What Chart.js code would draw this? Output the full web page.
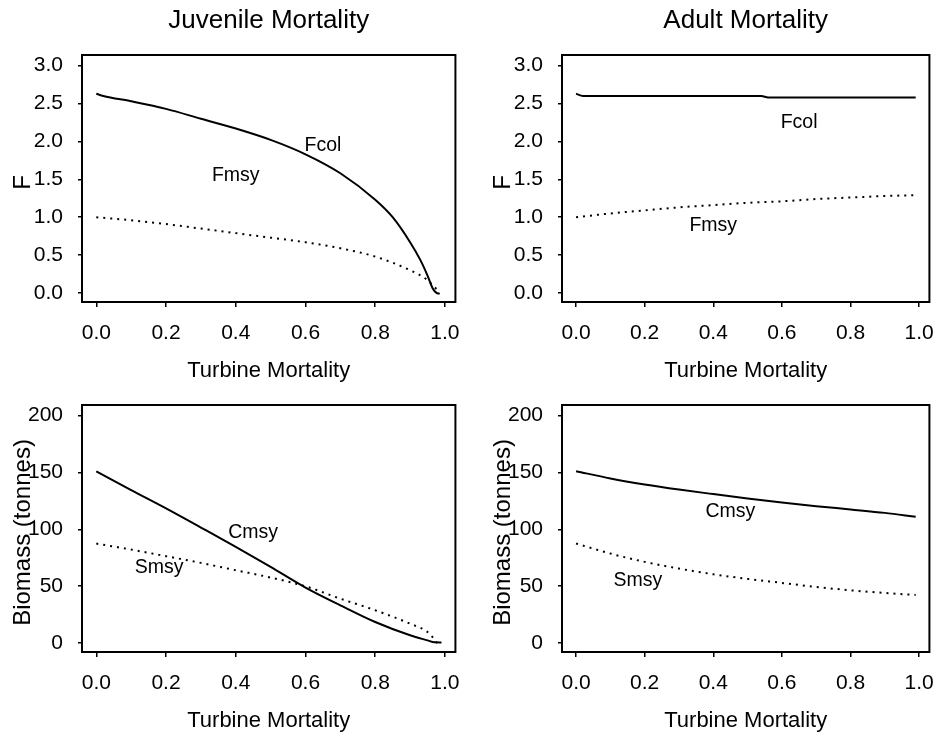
<!DOCTYPE html>
<html>
<head>
<meta charset="utf-8">
<title>Turbine Mortality</title>
<script src="https://cdn.jsdelivr.net/npm/chart.js@4.4.1/dist/chart.umd.min.js"></script>
<style>
  body { margin: 0; background: #fff; }
  #page { position: relative; width: 948px; height: 736px; overflow: hidden; }
  canvas { position: absolute; }
</style>
</head>
<body>
<div id="page">
  <canvas id="juvF" width="474" height="400" style="left:0;top:0"></canvas>
  <canvas id="adF" width="474" height="400" style="left:474px;top:0"></canvas>
  <canvas id="juvB" width="474" height="366" style="left:0;top:370px"></canvas>
  <canvas id="adB" width="474" height="366" style="left:474px;top:370px"></canvas>
</div>
<script>
// ====== AXIS TICKS ======
const xTicks = [0, 0.2, 0.4, 0.6, 0.8, 1.0];
const fTicks = [0, 0.5, 1.0, 1.5, 2.0, 2.5, 3.0];
const biomassTicks = [0, 50, 100, 150, 200];

// ====== JUVENILE MORTALITY: F ======
const juvFcolX = [0, 0.02, 0.1, 0.2, 0.3, 0.4, 0.5, 0.6, 0.7, 0.8, 0.85, 0.9, 0.93, 0.95, 0.965, 0.975, 0.985];
const juvFcol  = [2.63, 2.60, 2.53, 2.43, 2.30, 2.17, 2.02, 1.83, 1.58, 1.23, 1.00, 0.67, 0.43, 0.23, 0.06, 0.005, -0.01];
const juvFmsyX = [0, 0.1, 0.2, 0.3, 0.4, 0.5, 0.6, 0.7, 0.8, 0.9, 0.95, 0.98];
const juvFmsy  = [1.0, 0.96, 0.91, 0.85, 0.79, 0.73, 0.67, 0.59, 0.48, 0.30, 0.17, 0.03];

// ====== ADULT MORTALITY: F ======
const adFcolX = [0, 0.02, 0.54, 0.56, 0.99];
const adFcol  = [2.63, 2.60, 2.60, 2.58, 2.58];
const adFmsyX = [0, 0.1, 0.2, 0.3, 0.4, 0.5, 0.6, 0.7, 0.8, 0.9, 0.99];
const adFmsy  = [1.0, 1.05, 1.09, 1.13, 1.16, 1.19, 1.21, 1.24, 1.26, 1.28, 1.29];

// ====== JUVENILE MORTALITY: BIOMASS ======
const juvCmsyX = [0, 0.1, 0.2, 0.3, 0.4, 0.5, 0.6, 0.7, 0.8, 0.9, 0.95, 0.97, 0.99];
const juvCmsy  = [151, 134.5, 118.4, 101.6, 84.6, 67, 48.8, 33.2, 18.5, 6.8, 2.3, 0.6, 0.5];
const juvSmsyX = [0, 0.1, 0.2, 0.3, 0.4, 0.5, 0.6, 0.7, 0.8, 0.9, 0.95, 0.97, 0.985];
const juvSmsy  = [87.5, 82.2, 76.4, 70.5, 64, 57.6, 49.9, 39, 28.8, 17, 9.7, 3, -4];

// ====== ADULT MORTALITY: BIOMASS ======
const adBX    = [0, 0.1, 0.2, 0.3, 0.4, 0.5, 0.6, 0.7, 0.8, 0.9, 0.99];
const adCmsy  = [151.2, 144.8, 139.5, 135, 131, 127.2, 123.6, 120.4, 117.5, 114.5, 111];
const adSmsy  = [87.5, 78.7, 71.4, 65.5, 60.5, 56.4, 52.9, 49.3, 46.4, 44, 42.3];

// ====== CURVE LABELS (data coords) ======
const fLabels = ["Fcol", "Fmsy"];
const juvFLabelX = [0.65, 0.40], juvFLabelY = [1.95, 1.55];
const adFLabelX = [0.65, 0.40], adFLabelY = [2.25, 0.89];
const bLabels = ["Cmsy", "Smsy"];
const juvBLabelX = [0.45, 0.18], juvBLabelY = [97.5, 66];
const adBLabelX = [0.45, 0.18], adBLabelY = [116, 55];

const FONT = '"Liberation Sans", Arial, sans-serif';

// Frame, titles and curve labels drawn straight on the canvas
const panelDecor = {
  id: 'panelDecor',
  afterDatasetsDraw(chart, args, opts) {
    const { ctx, chartArea: a, scales } = chart;
    const cx = (a.left + a.right) / 2;
    ctx.save();
    ctx.strokeStyle = '#000';
    ctx.lineWidth = 2;
    ctx.strokeRect(a.left, a.top, a.right - a.left, a.bottom - a.top);

    ctx.fillStyle = '#000';
    ctx.textAlign = 'center';
    ctx.textBaseline = 'alphabetic';
    if (opts.title) {
      ctx.font = '26px ' + FONT;
      ctx.fillText(opts.title, cx, a.top - 27);
    }
    ctx.font = '22px ' + FONT;
    ctx.fillText(opts.xTitle, cx, a.bottom + 75);

    // y title sits close enough to run over the tick labels
    ctx.save();
    ctx.font = '24px ' + FONT;
    ctx.translate(a.left - 52, (a.top + a.bottom) / 2 + 4);
    ctx.rotate(-Math.PI / 2);
    ctx.fillText(opts.yTitle, 0, 0);
    ctx.restore();

    ctx.font = '19.5px ' + FONT;
    ctx.textBaseline = 'middle';
    opts.labels.forEach((txt, i) => {
      ctx.fillText(txt, scales.x.getPixelForValue(opts.labelX[i]), scales.y.getPixelForValue(opts.labelY[i]));
    });
    ctx.restore();
  }
};

function toPoints(xs, ys) {
  return xs.map((x, i) => ({ x, y: ys[i] }));
}

function axisGrid(len) {
  return { drawOnChartArea: false, drawTicks: true, tickLength: len, color: '#000', lineWidth: 1.5 };
}

function makePanel(id, box, yRange, yTickVals, yDigits, series, decor) {
  const canvas = document.getElementById(id);
  const W = canvas.width, H = canvas.height;
  return new Chart(canvas, {
    type: 'line',
    data: {
      datasets: series.map(s => ({
        data: s.data,
        borderColor: '#000',
        borderWidth: 2,
        borderDash: s.dotted ? [2, 5] : [],
        pointRadius: 0,
        cubicInterpolationMode: 'monotone',
        fill: false
      }))
    },
    options: {
      responsive: false,
      animation: false,
      devicePixelRatio: 1,
      layout: { autoPadding: false, padding: { left: 0, top: box.top, right: W - box.right, bottom: 0 } },
      plugins: { legend: { display: false }, tooltip: { enabled: false }, panelDecor: decor },
      scales: {
        x: {
          type: 'linear', min: -0.041, max: 1.03,
          afterFit: s => { s.height = H - box.bottom; },
          afterBuildTicks: s => { s.ticks = xTicks.map(v => ({ value: v })); },
          grid: axisGrid(5),
          border: { display: false },
          ticks: { color: '#000', font: { family: FONT, size: 21 }, padding: 14, maxRotation: 0, autoSkip: false,
                   callback: v => Number(v).toFixed(1) }
        },
        y: {
          type: 'linear', min: yRange[0], max: yRange[1],
          afterFit: s => { s.width = box.left; },
          afterBuildTicks: s => { s.ticks = yTickVals.map(v => ({ value: v })); },
          grid: axisGrid(4),
          border: { display: false },
          ticks: { color: '#000', font: { family: FONT, size: 21 }, padding: 15, autoSkip: false,
                   callback: v => Number(v).toFixed(yDigits) }
        }
      }
    },
    plugins: [panelDecor]
  });
}

// ====== INIT ======
const leftTop = { left: 82, top: 55, right: 458, bottom: 302 };
const rightTop = { left: 88, top: 55, right: 464, bottom: 302 };
const leftBottom = { left: 82, top: 35, right: 458, bottom: 282 };
const rightBottom = { left: 88, top: 35, right: 464, bottom: 282 };
const fRange = [-0.119, 3.141];
const bRange = [-7.9, 209.4];

makePanel('juvF', leftTop, fRange, fTicks, 1, [
  { data: toPoints(juvFcolX, juvFcol) },
  { data: toPoints(juvFmsyX, juvFmsy), dotted: true }
], { title: 'Juvenile Mortality', xTitle: 'Turbine Mortality', yTitle: 'F', labels: fLabels, labelX: juvFLabelX, labelY: juvFLabelY });

makePanel('adF', rightTop, fRange, fTicks, 1, [
  { data: toPoints(adFcolX, adFcol) },
  { data: toPoints(adFmsyX, adFmsy), dotted: true }
], { title: 'Adult Mortality', xTitle: 'Turbine Mortality', yTitle: 'F', labels: fLabels, labelX: adFLabelX, labelY: adFLabelY });

makePanel('juvB', leftBottom, bRange, biomassTicks, 0, [
  { data: toPoints(juvCmsyX, juvCmsy) },
  { data: toPoints(juvSmsyX, juvSmsy), dotted: true }
], { xTitle: 'Turbine Mortality', yTitle: 'Biomass (tonnes)', labels: bLabels, labelX: juvBLabelX, labelY: juvBLabelY });

makePanel('adB', rightBottom, bRange, biomassTicks, 0, [
  { data: toPoints(adBX, adCmsy) },
  { data: toPoints(adBX, adSmsy), dotted: true }
], { xTitle: 'Turbine Mortality', yTitle: 'Biomass (tonnes)', labels: bLabels, labelX: adBLabelX, labelY: adBLabelY });
</script>
</body>
</html>
